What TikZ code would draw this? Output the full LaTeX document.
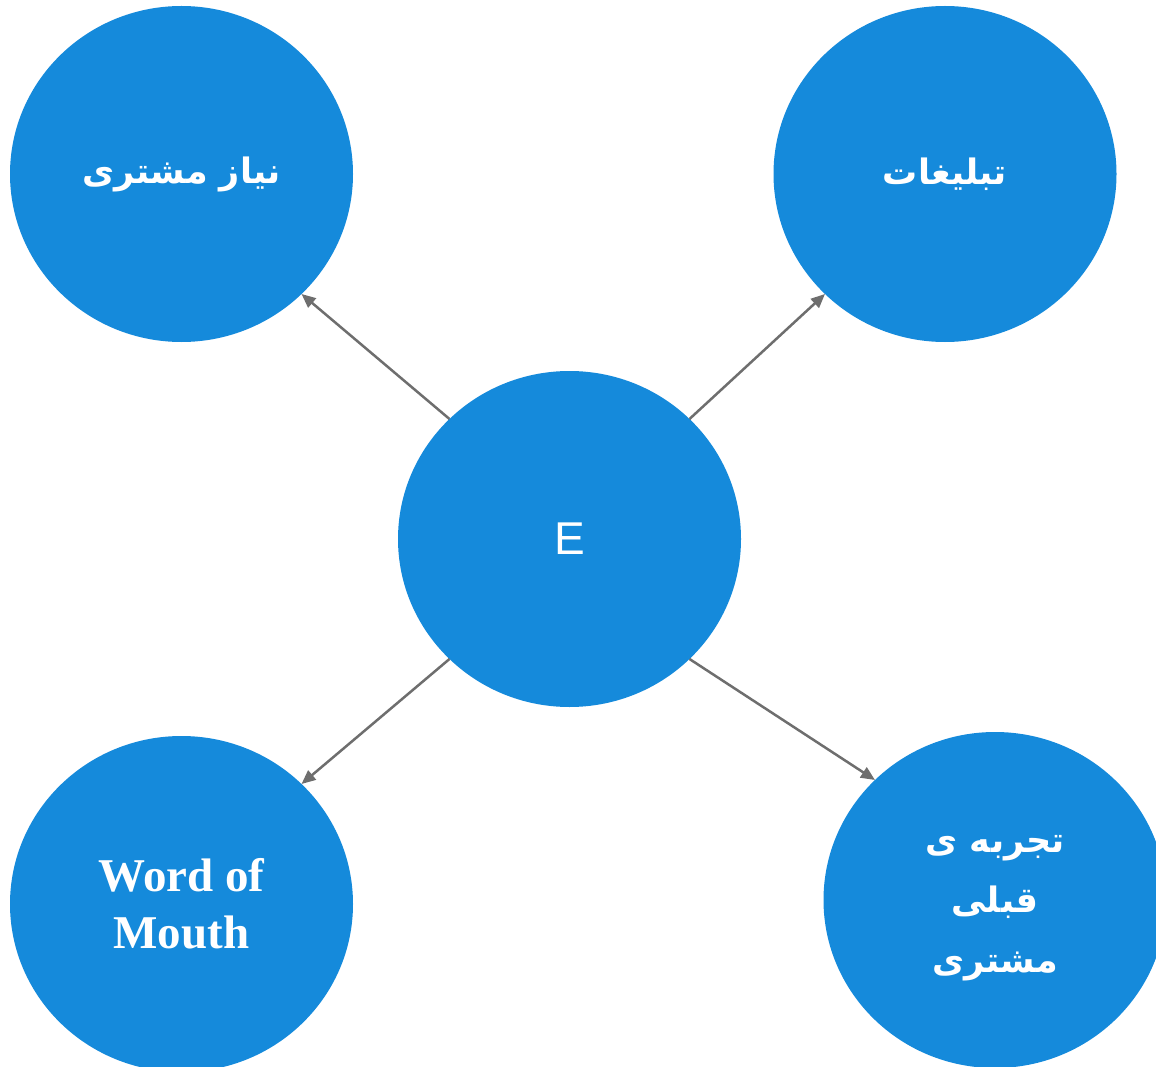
\documentclass[tikz,border=0pt]{standalone}
\usepackage{fontspec}
\setmainfont{Liberation Serif}
\setsansfont{Liberation Sans}
\newfontfamily\arabicfont[Script=Arabic]{DejaVu Sans}
\TeXXeTstate=1
\usetikzlibrary{arrows.meta,shapes.geometric}
\definecolor{bubble}{HTML}{158ADB}
\definecolor{conn}{HTML}{6E6E6E}
\begin{document}
\begin{tikzpicture}[x=1pt,y=-1pt,
  bub/.style={ellipse, fill=bubble, draw=none, minimum width=343pt, minimum height=336pt,
    inner sep=0pt, outer sep=0pt, text=white, align=center},
  fa/.style={font=\arabicfont\bfseries\fontsize{35}{60}\selectfont},
  link/.style={draw=conn, line width=2.5pt, -{Triangle[length=14pt,width=12pt]}}]
\useasboundingbox (0,0) rectangle (1156,1067);
\clip (0,0) rectangle (1156,1067);
\node[bub, fa] (tl) at (181.5,174) {\raisebox{-4pt}{\beginR نیاز مشتری\endR}};
\node[bub, fa] (tr) at (945,174) {\raisebox{-2pt}{\beginR تبلیغات\endR}};
\node[bub, font=\sffamily\fontsize{46}{50}\selectfont] (c) at (569.5,539) {E};
\node[bub, font=\rmfamily\bfseries\fontsize{47}{57}\selectfont] (bl) at (181.5,904) {Word of\\Mouth};
\node[bub, fa] (br) at (995,900) {\raisebox{-8pt}{\begin{tabular}{@{}c@{}}\beginR تجربه ی\endR\\\beginR قبلی\endR\\\beginR مشتری\endR\end{tabular}}};
\draw[link] (c.135) -- (tl.-45);
\draw[link] (c.45) -- (tr.-135);
\draw[link] (c.-135) -- (bl.45);
\draw[link] (c.-45) -- (br.135);
\end{tikzpicture}
\end{document}
